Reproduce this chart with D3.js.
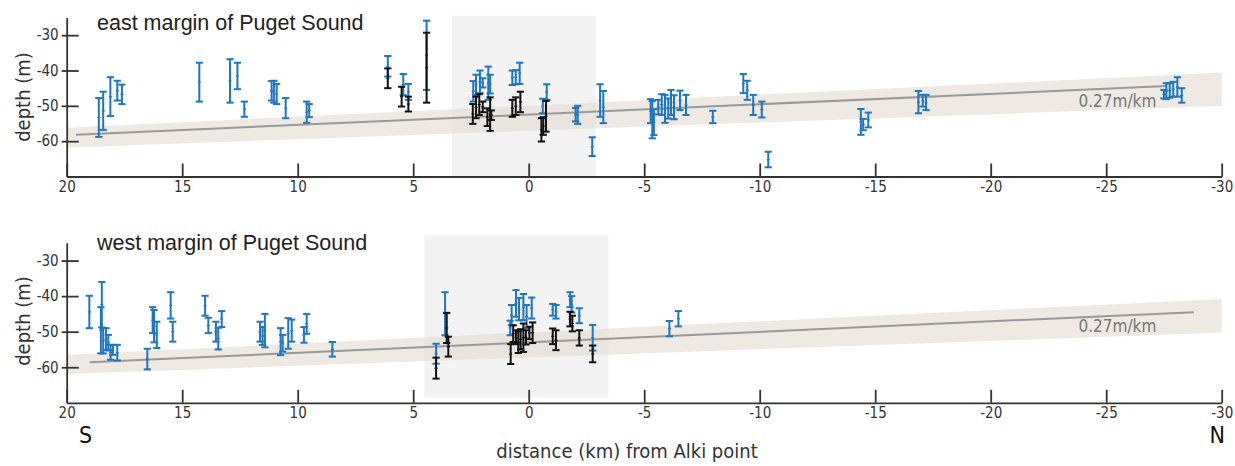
<!DOCTYPE html>
<html lang="en">
<head>
<meta charset="UTF-8">
<script src="https://d3js.org/d3.v7.min.js"></script>
<style>
    body { margin: 0; background: #fff; }
    svg { display: block; }
    .cond { font-family: "Liberation Sans Narrow", "DejaVu Sans Condensed", sans-serif; font-stretch: condensed; }
    .axis path, .axis line { stroke: #333; stroke-width: 1.8; }
    .axis text { font-family: "Liberation Sans Narrow", "DejaVu Sans Condensed", sans-serif; font-size: 15px; fill: #333; }
    .title { font-family: "Liberation Sans", Arial, sans-serif; font-size: 21.5px; fill: #222; }
</style>
</head>
<body>
<svg id="chart" width="1235" height="466"></svg>
<script>
// error bars: [distance km, top depth, bottom depth]
const eastBlue = [
    [18.61,-47.8,-58.8],[18.42,-46.0,-56.8],[18.11,-41.9,-52.9],[17.81,-42.9,-48.5],[17.61,-44.0,-49.5],
    [14.26,-37.8,-48.8],[12.93,-36.8,-49.1],[12.61,-37.8,-45.3],[12.31,-48.8,-53.1],
    [11.13,-43.0,-48.5],[11.03,-42.9,-49.1],[10.91,-43.8,-49.5],[10.52,-47.8,-53.5],
    [9.61,-48.8,-54.8],[9.50,-49.5,-53.2],
    [6.10,-35.9,-41.7],[5.43,-41.0,-47.0],[5.21,-43.8,-48.3],[4.42,-25.9,-45.5],
    [2.40,-43.0,-48.8],[2.28,-41.2,-47.0],[2.11,-40.0,-46.4],[1.99,-42.2,-44.8],[1.75,-38.9,-48.3],[1.67,-41.2,-46.5],
    [0.71,-40.0,-44.1],[0.56,-39.9,-43.9],[0.39,-37.8,-43.8],
    [-0.61,-48.0,-52.1],[-0.78,-43.9,-48.3],
    [-2.03,-50.6,-54.4],[-2.12,-50.0,-55.1],[-2.75,-58.9,-64.2],[-3.09,-43.9,-53.1],[-3.23,-45.8,-54.9],
    [-5.28,-48.1,-54.9],[-5.35,-48.6,-59.2],[-5.42,-51.0,-58.3],[-5.61,-48.3,-52.4],[-5.76,-46.7,-52.6],
    [-5.90,-46.9,-54.8],[-6.04,-47.9,-53.6],[-6.16,-45.5,-52.6],[-6.29,-47.0,-53.8],[-6.55,-45.7,-51.2],[-6.81,-46.9,-52.6],
    [-7.97,-51.4,-54.9],
    [-9.29,-41.0,-46.4],[-9.46,-42.9,-48.3],[-9.72,-46.9,-52.6],[-10.09,-48.8,-53.3],[-10.37,-63.0,-67.4],
    [-14.38,-50.9,-58.2],[-14.48,-53.7,-56.9],[-14.70,-51.9,-56.1],
    [-16.87,-45.8,-52.1],[-17.06,-46.9,-50.2],[-17.20,-46.9,-51.2],
    [-27.50,-45.5,-47.9],[-27.60,-43.6,-48.1],[-27.75,-43.6,-47.7],[-27.90,-43.2,-47.4],[-28.08,-41.9,-47.4],[-28.27,-45.0,-49.1]
];
const eastBlack = [
    [6.10,-39.4,-45.0],[5.50,-44.6,-50.2],[5.21,-47.4,-51.6],[4.42,-29.3,-49.1],
    [2.42,-49.5,-55.1],[2.28,-47.4,-53.5],[2.14,-46.7,-52.6],[1.99,-48.8,-51.8],[1.79,-50.7,-55.7],[1.67,-47.6,-57.1],[1.62,-51.3,-54.0],
    [0.71,-48.3,-53.1],[0.56,-47.6,-52.6],[0.36,-46.0,-51.8],
    [-0.55,-53.5,-60.1],[-0.63,-53.2,-58.2],[-0.75,-48.6,-57.3]
];
const westBlue = [
    [19.02,-39.9,-49.0],[18.52,-43.1,-56.1],[18.48,-36.0,-48.8],[18.42,-49.0,-56.1],[18.30,-49.0,-55.1],
    [18.20,-50.9,-55.3],[18.10,-53.7,-57.9],[18.00,-53.7,-56.5],[17.81,-53.7,-58.1],
    [16.51,-54.8,-60.6],[16.28,-43.1,-50.4],[16.22,-43.9,-53.0],[16.10,-47.2,-54.6],
    [15.50,-38.9,-46.3],[15.41,-47.2,-52.8],
    [14.01,-39.9,-45.5],[13.87,-46.1,-50.4],[13.54,-47.2,-52.8],[13.44,-48.9,-55.0],[13.29,-44.2,-48.7],
    [11.63,-47.2,-52.8],[11.52,-48.7,-53.7],[11.42,-45.0,-54.4],
    [10.74,-49.0,-56.6],[10.65,-50.9,-55.6],[10.41,-46.2,-54.8],[10.26,-46.6,-52.8],
    [9.73,-48.7,-53.1],[9.61,-45.0,-50.6],[8.50,-52.9,-57.0],
    [4.01,-53.4,-59.0],[3.62,-38.9,-51.0],
    [0.80,-46.9,-51.0],[0.74,-42.5,-48.2],[0.55,-38.3,-45.8],[0.42,-40.5,-46.8],[0.23,-39.4,-46.8],[0.09,-42.5,-49.0],[-0.13,-40.4,-46.3],
    [-1.04,-42.2,-45.5],[-1.18,-42.5,-46.3],[-1.79,-38.9,-43.1],[-1.86,-40.0,-44.6],[-2.19,-43.4,-47.6],[-2.77,-48.1,-55.3],
    [-6.09,-47.0,-51.3],[-6.48,-44.2,-48.5]
];
const westBlack = [
    [4.01,-57.3,-63.2],[3.55,-44.7,-53.2],[3.48,-51.4,-57.0],
    [0.78,-53.5,-59.1],[0.67,-48.2,-52.9],[0.55,-49.6,-53.5],[0.45,-49.9,-56.0],[0.35,-49.3,-55.0],
    [0.23,-47.7,-55.7],[0.12,-49.6,-53.6],[-0.03,-48.6,-52.1],[-0.17,-47.4,-53.2],
    [-1.04,-49.1,-53.5],[-1.18,-49.6,-55.2],[-1.79,-44.4,-48.5],[-1.89,-45.5,-49.9],
    [-2.19,-49.6,-53.9],[-2.77,-53.9,-58.6]
];

// trend lines [x, depth] and uncertainty bands
const eastTrend = [[19.6,-58.2],[-27.6,-44.4]];
const westTrend = [[19.0,-58.6],[-28.8,-44.5]];
const eastBand = [[20,-56.2],[-30,-40.6],[-30,-50.0],[20,-61.8]];
const westBand = [[20,-56.5],[-30,-40.8],[-30,-50.25],[20,-61.9]];
// shaded study area: [x0, x1, depthTop, depthBottom]
const eastBox = [3.33,-2.9,-24.5,-70];
const westBox = [4.52,-3.45,-22.8,-68.5];

const xTicks = [20,15,10,5,0,-5,-10,-15,-20,-25,-30];
const yTicks = [-30,-40,-50,-60];

const blue = "#1f76c0";
const black = "#111";

const svg = d3.select("#chart");

const x = d3.scaleLinear().domain([20, -30]).range([66.7, 1221.7]);

function panel(opts) {
    const y = d3.scaleLinear().domain([-70, -25]).range([opts.bottom, opts.top]);
    const g = svg.append("g");

    // study area box
    const b = opts.box;
    g.append("rect")
        .attr("x", x(b[0])).attr("width", x(b[1]) - x(b[0]))
        .attr("y", y(b[2])).attr("height", y(b[3]) - y(b[2]))
        .attr("fill", "#f3f3f3");

    // band + trend
    g.append("path")
        .attr("d", d3.line().x(d => x(d[0])).y(d => y(d[1]))(opts.band) + "Z")
        .attr("fill", "#e2dbd1").attr("fill-opacity", 0.6);
    g.append("path")
        .attr("d", d3.line().x(d => x(d[0])).y(d => y(d[1]))(opts.trend))
        .attr("stroke", "#999").attr("stroke-width", 2).attr("fill", "none");
    g.append("text")
        .attr("class", "cond")
        .attr("x", x(-23.8)).attr("y", y(-50.2))
        .attr("font-size", 17).attr("fill", "#777")
        .text("0.27m/km");

    // axes
    const xAxis = g.append("g").attr("class", "axis")
        .attr("transform", `translate(0,${opts.bottom})`)
        .call(d3.axisBottom(x).tickValues(xTicks).tickFormat(d => String(d))
            .tickSizeInner(-13).tickSizeOuter(0).tickPadding(5));
    const yAxis = g.append("g").attr("class", "axis")
        .attr("transform", `translate(${x(20)},0)`)
        .call(d3.axisLeft(y).tickValues(yTicks).tickFormat(d => String(d))
            .tickSizeInner(-12).tickSizeOuter(0).tickPadding(8));
    yAxis.selectAll(".tick line").attr("x1", -5);
    xAxis.select(".domain").attr("stroke-width", 2);

    // error bars
    function bars(data, color) {
        const gg = g.append("g").attr("stroke", color).attr("stroke-width", 2);
        const s = gg.selectAll("g").data(data).join("g");
        s.append("line")
            .attr("x1", d => x(d[0])).attr("x2", d => x(d[0]))
            .attr("y1", d => y(d[1])).attr("y2", d => y(d[2]));
        s.append("line")
            .attr("x1", d => x(d[0]) - 3.6).attr("x2", d => x(d[0]) + 3.6)
            .attr("y1", d => y(d[1])).attr("y2", d => y(d[1]));
        s.append("line")
            .attr("x1", d => x(d[0]) - 3.6).attr("x2", d => x(d[0]) + 3.6)
            .attr("y1", d => y(d[2])).attr("y2", d => y(d[2]));
        s.append("line")
            .attr("stroke-width", 1.2)
            .attr("x1", d => x(d[0]) - 1.5).attr("x2", d => x(d[0]) + 1.5)
            .attr("y1", d => (y(d[1]) + y(d[2])) / 2).attr("y2", d => (y(d[1]) + y(d[2])) / 2);
    }
    bars(opts.blue, blue);
    bars(opts.black, black);

    // title + y label
    g.append("text").attr("class", "title")
        .attr("x", 97).attr("y", opts.titleY)
        .text(opts.title);
    g.append("text").attr("class", "cond")
        .attr("transform", `translate(30,${opts.labelY}) rotate(-90)`)
        .attr("text-anchor", "middle").attr("font-size", 20).attr("fill", "#333")
        .text("depth (m)");
}

panel({ top: 17.5, bottom: 176.5, box: eastBox, band: eastBand, trend: eastTrend,
        blue: eastBlue, black: eastBlack, title: "east margin of Puget Sound", titleY: 30, labelY: 97 });
panel({ top: 242.8, bottom: 402.8, box: westBox, band: westBand, trend: westTrend,
        blue: westBlue, black: westBlack, title: "west margin of Puget Sound", titleY: 250, labelY: 321 });

svg.append("text").attr("class", "cond")
    .attr("x", 627).attr("y", 458).attr("text-anchor", "middle")
    .attr("font-size", 20).attr("fill", "#333")
    .text("distance (km) from Alki point");
svg.append("text").attr("class", "cond")
    .attr("x", 79).attr("y", 443).attr("font-size", 23).attr("fill", "#111")
    .text("S");
svg.append("text").attr("class", "cond")
    .attr("x", 1225).attr("y", 443).attr("text-anchor", "end").attr("font-size", 23).attr("fill", "#111")
    .text("N");
</script>
</body>
</html>
